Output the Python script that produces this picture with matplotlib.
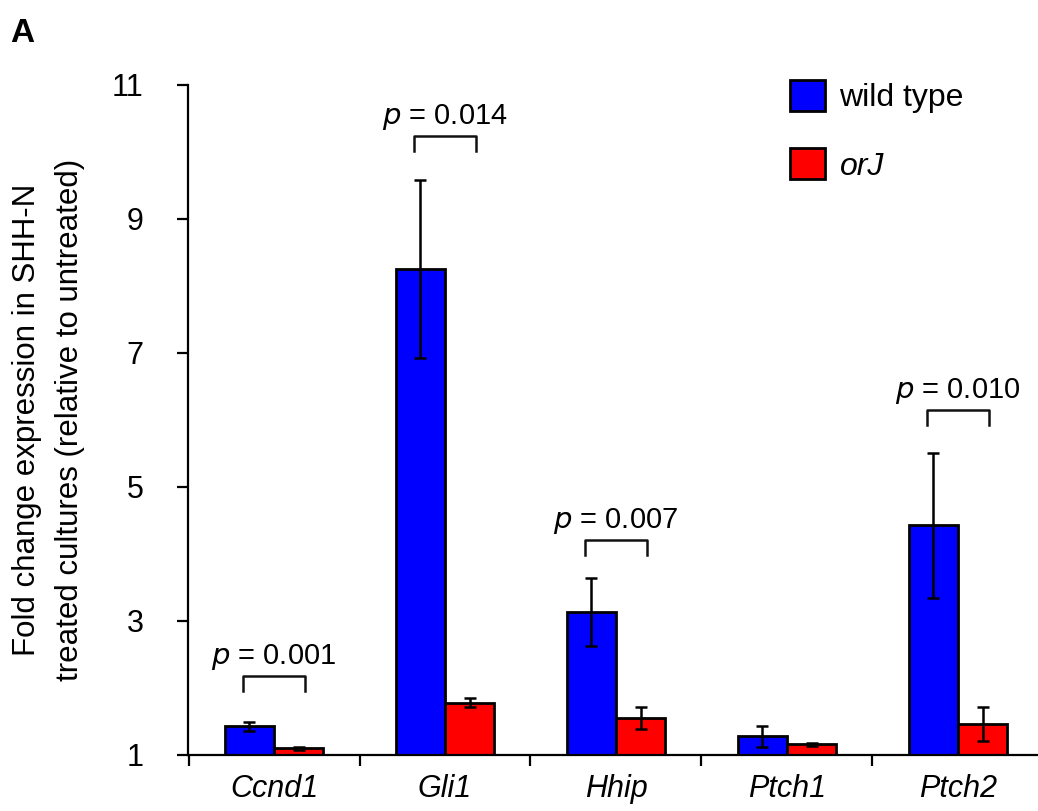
import numpy as np
import matplotlib as mpl
mpl.use('Agg')
import matplotlib.pyplot as plt

plt.rcParams['font.family'] = ['Liberation Sans', 'DejaVu Sans']

GENES = ["Ccnd1", "Gli1", "Hhip", "Ptch1", "Ptch2"]
WT_MEAN = [1.43, 8.25, 3.13, 1.28, 4.43]
WT_ERR = [0.07, 1.33, 0.51, 0.16, 1.08]
ORJ_MEAN = [1.10, 1.78, 1.55, 1.16, 1.46]
ORJ_ERR = [0.02, 0.07, 0.16, 0.02, 0.25]

# significance brackets: gene index, bracket height, p value text
SIG_IDX = [0, 1, 2, 4]
SIG_Y = [2.18, 10.24, 4.21, 6.15]
SIG_TXT = ["0.001", "0.014", "0.007", "0.010"]

YTICKS = [1, 3, 5, 7, 9, 11]


def plot():
    fig = plt.figure(figsize=(10.38, 8.11), dpi=100)
    ax = fig.add_axes([188 / 1038, 56 / 811, 1 - 188 / 1038, 670 / 811])

    x = np.arange(len(GENES))
    w = 0.287
    ekw = dict(elinewidth=1.8, capthick=1.8, ecolor='black')
    ax.bar(x - w / 2, np.array(WT_MEAN) - 1, w, bottom=1, color='#0000ff',
           edgecolor='black', linewidth=2, yerr=WT_ERR, capsize=4.5,
           error_kw=ekw, label='wild type', zorder=2)
    ax.bar(x + w / 2, np.array(ORJ_MEAN) - 1, w, bottom=1, color='#ff0000',
           edgecolor='black', linewidth=2, yerr=ORJ_ERR, capsize=4.5,
           error_kw=ekw, label='orJ', zorder=2)

    # brackets with p values
    hw = 0.184
    leg = 0.22
    for i, yb, t in zip(SIG_IDX, SIG_Y, SIG_TXT):
        ax.plot([i - hw, i - hw, i + hw, i + hw], [yb - leg, yb, yb, yb - leg],
                color='#111111', lw=1.8, clip_on=False)
        ax.text(i, yb + 0.28, r'$p$ = ' + t, ha='center', va='center',
                fontsize=21, math_fontfamily='dejavusans')

    ax.set_ylim(1, 11)
    ax.set_xlim(-0.503, 4.468)
    ax.set_yticks(YTICKS)
    ax.set_yticklabels([str(v) for v in YTICKS], fontsize=22)
    ax.tick_params(axis='y', direction='out', length=8, width=1.6, pad=24)

    ax.set_xticks(x)
    ax.set_xticklabels(GENES, fontsize=22, style='italic')
    ax.set_xticks(np.arange(len(GENES)) - 0.5, minor=True)
    ax.tick_params(axis='x', which='major', length=0, pad=14)
    ax.tick_params(axis='x', which='minor', direction='out', length=8, width=1.6)

    ax.spines['top'].set_visible(False)
    ax.spines['right'].set_visible(False)
    ax.spines['left'].set_linewidth(1.6)
    ax.spines['bottom'].set_linewidth(1.6)

    ax.set_ylabel('Fold change expression in SHH-N\ntreated cultures (relative to untreated)',
                  fontsize=22.5, labelpad=19, linespacing=1.6)

    lg = ax.legend(loc='upper left', bbox_to_anchor=(790 / 1038, 1 - 80 / 811),
                   bbox_transform=fig.transFigure, frameon=False, fontsize=23,
                   handlelength=1.1, handleheight=1.1, labelspacing=1.1,
                   handletextpad=0.45, borderpad=0, borderaxespad=0)
    lg.get_texts()[1].set_style('italic')

    fig.text(10 / 1038, 1 - 34 / 811, 'A', fontsize=24, fontweight='bold',
             va='center', ha='left')

    fig.savefig('out.png', dpi=100)
    plt.close(fig)


if __name__ == "__main__":
    plot()
